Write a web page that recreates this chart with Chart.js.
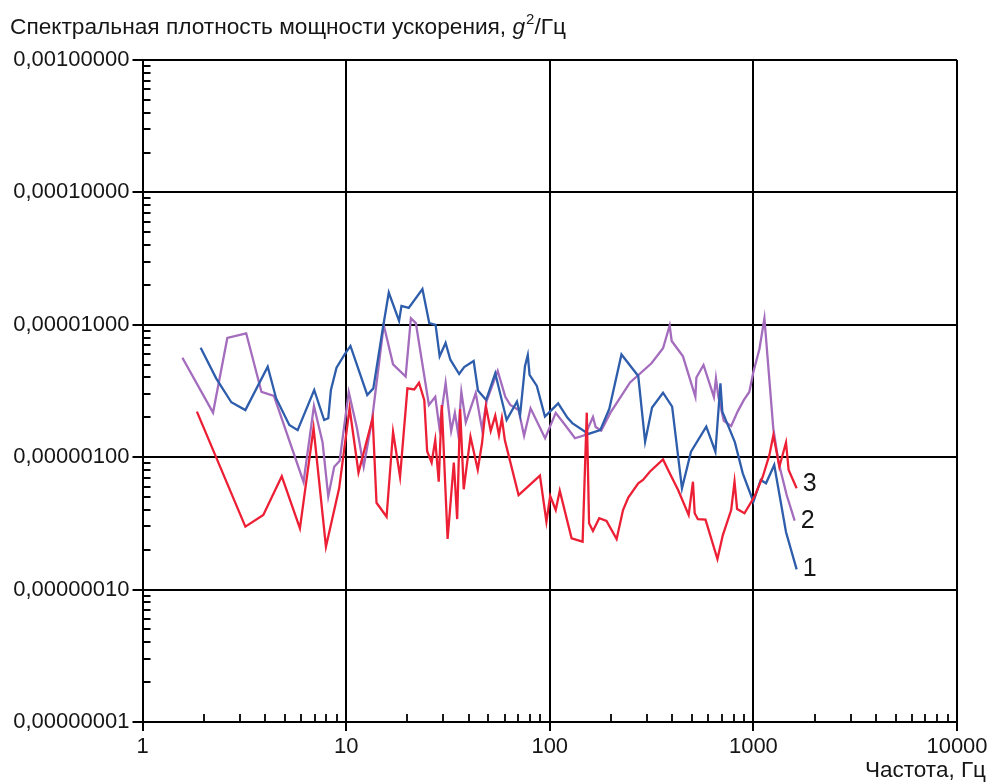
<!DOCTYPE html>
<html>
<head>
<meta charset="utf-8">
<script src="https://cdn.jsdelivr.net/npm/chart.js@4.4.0/dist/chart.umd.min.js"></script>
<style>
  html, body { margin: 0; padding: 0; background: #ffffff; }
  #wrap { width: 992px; height: 783px; }
</style>
</head>
<body>
<div id="wrap"><canvas id="psd" width="992" height="783"></canvas></div>
<script>
// Curve 1: frequency, Hz / PSD, g^2/Hz
const freq1 = [1.93, 2.30, 2.73, 3.20, 4.12, 4.53, 5.26, 5.78, 6.97, 7.80, 8.17, 8.42, 8.97, 9.78, 10.5, 12.7, 13.6, 15.1, 16.2, 18.2, 18.7, 20.3, 23.7, 25.6, 27.5, 28.8, 30.8, 32.5, 35.9, 38.0, 42.3, 44.4, 48.7, 54.0, 61.4, 69.0, 71.5, 75.6, 78.0, 79.6, 86.4, 94.7, 98.5, 110, 122, 129, 155, 177, 196, 225, 272, 294, 318, 360, 399, 446, 494, 587, 651, 689, 704, 811, 887, 1000, 1087, 1154, 1266, 1446, 1631];
const psd1 = [6.71e-6, 3.94e-6, 2.60e-6, 2.27e-6, 4.83e-6, 2.79e-6, 1.75e-6, 1.60e-6, 3.22e-6, 1.91e-6, 1.97e-6, 3.22e-6, 4.74e-6, 5.91e-6, 6.92e-6, 2.95e-6, 3.31e-6, 9.14e-6, 1.75e-5, 1.07e-5, 1.39e-5, 1.34e-5, 1.86e-5, 1.03e-5, 9.97e-6, 5.78e-6, 7.29e-6, 5.45e-6, 4.25e-6, 4.80e-6, 5.33e-6, 3.19e-6, 2.70e-6, 4.30e-6, 1.91e-6, 2.63e-6, 2.08e-6, 4.88e-6, 5.91e-6, 4.18e-6, 3.45e-6, 2.03e-6, 2.15e-6, 2.55e-6, 1.99e-6, 1.81e-6, 1.50e-6, 1.60e-6, 2.31e-6, 5.97e-6, 4.10e-6, 1.31e-6, 2.37e-6, 3.07e-6, 2.41e-6, 5.82e-7, 1.10e-6, 1.70e-6, 1.10e-6, 3.61e-6, 2.21e-6, 1.30e-6, 7.56e-7, 4.61e-7, 6.73e-7, 6.35e-7, 8.73e-7, 2.72e-7, 1.42e-7];

// Curve 2
const freq2 = [1.57, 2.22, 2.61, 3.23, 3.84, 4.42, 6.18, 6.95, 7.66, 8.17, 8.74, 9.29, 10.3, 11.3, 12.2, 13.4, 15.3, 17.0, 19.6, 20.8, 22.0, 25.5, 27.4, 28.7, 30.8, 32.8, 34.2, 35.5, 36.8, 38.7, 43.3, 46.5, 49.0, 55.5, 60.5, 64.0, 70.3, 74.8, 80.5, 94.9, 107, 119, 133, 149, 163, 168, 179, 198, 217, 248, 316, 360, 388, 397, 451, 519, 525, 569, 640, 655, 673, 716, 778, 839, 897, 955, 1000, 1071, 1133, 1252, 1332, 1457, 1595];
const psd2 = [5.64e-6, 2.17e-6, 7.95e-6, 8.63e-6, 3.11e-6, 2.90e-6, 6.50e-7, 2.44e-6, 1.30e-6, 5.05e-7, 8.48e-7, 9.36e-7, 3.11e-6, 1.66e-6, 8.48e-7, 1.91e-6, 9.97e-6, 5.03e-6, 4.07e-6, 1.12e-5, 1.03e-5, 2.48e-6, 2.86e-6, 1.68e-6, 3.63e-6, 1.58e-6, 2.16e-6, 1.50e-6, 3.11e-6, 1.83e-6, 3.05e-6, 1.63e-6, 2.66e-6, 4.48e-6, 2.86e-6, 2.48e-6, 2.27e-6, 1.45e-6, 2.34e-6, 1.39e-6, 2.16e-6, 1.75e-6, 1.39e-6, 1.47e-6, 2.01e-6, 1.69e-6, 1.59e-6, 2.15e-6, 2.68e-6, 3.67e-6, 5.12e-6, 6.65e-6, 9.88e-6, 7.55e-6, 5.78e-6, 2.86e-6, 4.00e-6, 4.97e-6, 2.85e-6, 3.94e-6, 2.87e-6, 1.88e-6, 1.72e-6, 2.23e-6, 2.70e-6, 3.11e-6, 4.40e-6, 6.57e-6, 1.12e-5, 1.66e-6, 9.04e-7, 5.18e-7, 3.32e-7];

// Curve 3
const freq3 = [1.85, 3.20, 3.92, 4.83, 5.93, 6.92, 7.96, 9.24, 10.4, 11.5, 13.5, 14.1, 15.8, 17.0, 18.4, 20.0, 21.6, 22.8, 24.2, 25.0, 26.3, 27.4, 28.5, 29.5, 31.5, 33.8, 35.1, 36.3, 37.8, 40.8, 44.3, 46.5, 48.6, 51.3, 54.0, 56.3, 58.2, 60.2, 70.3, 89.5, 96.3, 100.5, 107, 112, 128, 145, 152, 156, 163, 175, 190, 213, 229, 243, 272, 287, 310, 360, 390, 427, 481, 505, 515, 534, 582, 666, 708, 778, 808, 832, 904, 1012, 1112, 1199, 1254, 1342, 1446, 1490, 1631];
const psd3 = [2.21e-6, 2.99e-7, 3.66e-7, 7.17e-7, 2.90e-7, 1.66e-6, 2.11e-7, 5.82e-7, 2.35e-6, 7.66e-7, 1.97e-6, 4.53e-7, 3.55e-7, 1.55e-6, 7.12e-7, 3.31e-6, 3.25e-6, 3.65e-6, 2.70e-6, 1.11e-6, 9.09e-7, 1.35e-6, 6.53e-7, 2.48e-6, 2.41e-7, 9.12e-7, 3.41e-7, 2.31e-6, 5.72e-7, 1.43e-6, 8.05e-7, 1.28e-6, 2.42e-6, 1.58e-6, 2.06e-6, 1.47e-6, 1.97e-6, 1.34e-6, 5.18e-7, 7.27e-7, 3.26e-7, 5.09e-7, 3.99e-7, 5.58e-7, 2.44e-7, 2.30e-7, 2.17e-6, 3.17e-7, 2.77e-7, 3.46e-7, 3.30e-7, 2.41e-7, 3.99e-7, 4.96e-7, 6.35e-7, 6.73e-7, 7.77e-7, 9.61e-7, 7.47e-7, 5.65e-7, 3.66e-7, 6.53e-7, 3.77e-7, 3.40e-7, 3.38e-7, 1.70e-7, 2.58e-7, 3.99e-7, 6.53e-7, 4.06e-7, 3.77e-7, 5.03e-7, 7.12e-7, 1.04e-6, 1.47e-6, 8.48e-7, 1.29e-6, 8.00e-7, 5.82e-7];

const seriesNames = ['1', '2', '3'];
const xTickValues = [1, 10, 100, 1000, 10000];
const yTickValues = [1e-8, 1e-7, 1e-6, 1e-5, 1e-4, 1e-3];

const FONT = '"Liberation Sans", Arial, sans-serif';
const TEXT_COLOR = '#161616';
const toPoints = (fs, vs) => fs.map((f, i) => ({ x: f, y: vs[i] }));

// short inward minor ticks at 2..9 of every decade
const minorTicks = {
  id: 'minorTicks',
  beforeDatasetsDraw(chart) {
    const { ctx, chartArea: a, scales: { x, y } } = chart;
    ctx.save();
    ctx.strokeStyle = '#000';
    ctx.lineWidth = 1.8;
    ctx.beginPath();
    for (let e = 0; e < 4; e++) {
      for (let m = 2; m <= 9; m++) {
        const px = Math.round(x.getPixelForValue(m * Math.pow(10, e)));
        ctx.moveTo(px, a.bottom);
        ctx.lineTo(px, a.bottom - 8);
      }
    }
    for (let e = -8; e < -3; e++) {
      for (let m = 2; m <= 9; m++) {
        const py = Math.round(y.getPixelForValue(m * Math.pow(10, e)));
        ctx.moveTo(a.left, py);
        ctx.lineTo(a.left + 8, py);
      }
    }
    ctx.stroke();
    ctx.restore();
  }
};

// axis captions and curve numbers
const captions = {
  id: 'captions',
  afterDraw(chart) {
    const { ctx, scales: { x } } = chart;
    ctx.save();
    ctx.fillStyle = TEXT_COLOR;
    ctx.textBaseline = 'alphabetic';
    ctx.textAlign = 'left';

    // vertical quantity caption above the plot
    let cx = 10;
    const base = 34;
    const parts = [
      { t: 'Спектральная плотность мощности ускорения, ', f: '22.7px ' + FONT, dy: 0 },
      { t: 'g', f: 'italic 22.7px ' + FONT, dy: 0 },
      { t: '2', f: '15px ' + FONT, dy: -10 },
      { t: '/Гц', f: '22.7px ' + FONT, dy: 0 }
    ];
    parts.forEach(p => {
      ctx.font = p.f;
      ctx.fillText(p.t, cx, base + p.dy);
      cx += ctx.measureText(p.t).width + (p.t === 'g' ? 1 : 0);
    });

    // horizontal quantity caption
    ctx.font = '22.5px ' + FONT;
    ctx.textAlign = 'right';
    ctx.fillText('Частота, Гц', x.right + 29, 777);

    // curve numbers next to the curve ends
    ctx.font = '25px ' + FONT;
    ctx.textAlign = 'left';
    ctx.textBaseline = 'middle';
    chart.data.datasets.forEach((ds, i) => {
      const meta = chart.getDatasetMeta(i);
      const last = meta.data[meta.data.length - 1];
      ctx.fillText(ds.label, last.x + 6, last.y + (ds.endLabelShift || 0));
    });
    ctx.restore();
  }
};

new Chart(document.getElementById('psd'), {
  type: 'line',
  data: {
    datasets: [
      { label: seriesNames[2], data: toPoints(freq3, psd3), borderColor: '#ec1f35', order: 0, endLabelShift: -4 },
      { label: seriesNames[0], data: toPoints(freq1, psd1), borderColor: '#2d5dab', order: 1, endLabelShift: 0 },
      { label: seriesNames[1], data: toPoints(freq2, psd2), borderColor: '#a46cbd', order: 2, endLabelShift: 1 }
    ]
  },
  options: {
    responsive: false,
    devicePixelRatio: 1,
    animation: false,
    layout: { padding: { left: 0, right: 35, top: 60, bottom: 0 } },
    elements: {
      line: { borderWidth: 2.3, tension: 0, fill: false },
      point: { radius: 0, hoverRadius: 0 }
    },
    plugins: {
      legend: { display: false },
      tooltip: { enabled: false },
      title: { display: false }
    },
    scales: {
      x: {
        type: 'logarithmic',
        min: 1,
        max: 10000,
        afterBuildTicks: s => { s.ticks = xTickValues.map(v => ({ value: v })); },
        afterFit: s => { s.height = 61; },
        grid: { color: '#000', lineWidth: 2, tickLength: 9, drawTicks: true },
        border: { display: true, color: '#000', width: 2 },
        ticks: {
          autoSkip: false,
          maxRotation: 0,
          padding: 3,
          color: TEXT_COLOR,
          font: { family: FONT, size: 22 },
          callback: v => String(Math.round(v))
        }
      },
      y: {
        type: 'logarithmic',
        min: 1e-8,
        max: 1e-3,
        afterBuildTicks: s => { s.ticks = yTickValues.map(v => ({ value: v })); },
        afterFit: s => { s.width = 142.5; },
        grid: { color: '#000', lineWidth: 2, tickLength: 10, drawTicks: true },
        border: { display: true, color: '#000', width: 2 },
        ticks: {
          autoSkip: false,
          padding: 3,
          color: TEXT_COLOR,
          font: { family: FONT, size: 22 },
          callback: v => Number(v).toFixed(8).replace('.', ',')
        }
      }
    }
  },
  plugins: [minorTicks, captions]
});
</script>
</body>
</html>
